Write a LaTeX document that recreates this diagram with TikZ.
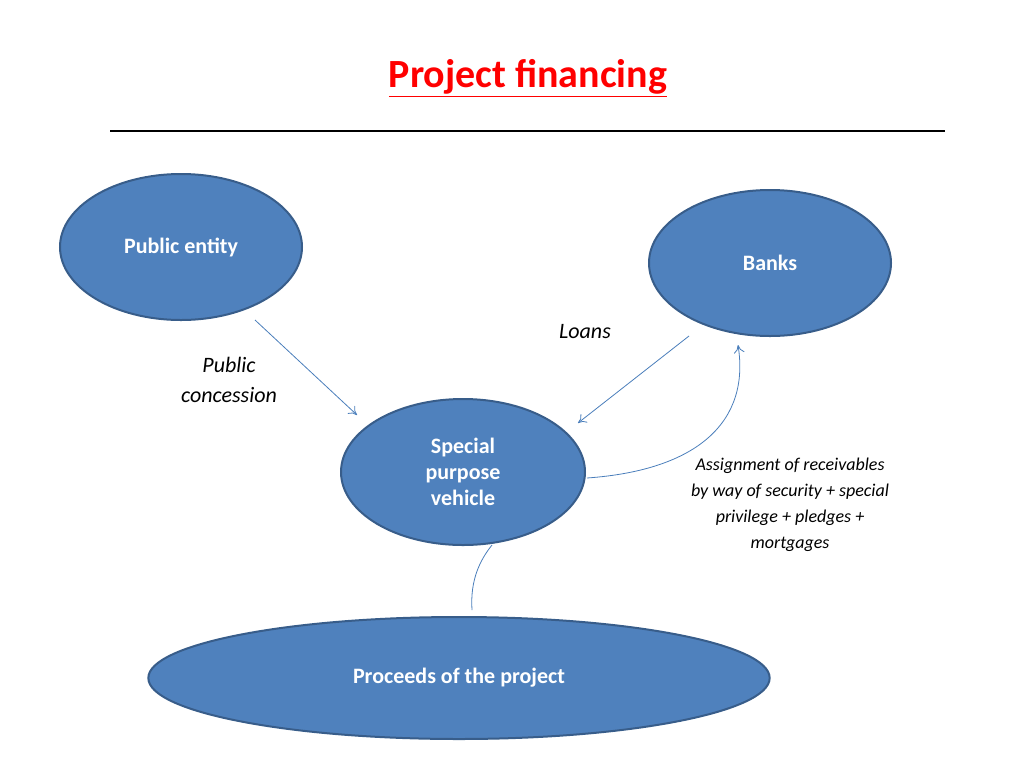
\documentclass[tikz,border=0pt]{standalone}
\usepackage{fontspec}
\setmainfont{Carlito}
\usetikzlibrary{shapes.geometric,arrows.meta}
\definecolor{fillb}{HTML}{4F81BD}
\definecolor{edgeb}{HTML}{385D8A}
\definecolor{lineb}{HTML}{4A7EBB}
\begin{document}
\begin{tikzpicture}[x=0.75pt,y=-0.75pt,
  ell/.style={ellipse,draw=edgeb,fill=fillb,line width=1.5pt,inner sep=0pt,text=white,font=\fontsize{16.5}{19.5}\selectfont\bfseries,align=center},
  lab/.style={font=\fontsize{16.5}{23}\selectfont\itshape,align=center},
  conn/.style={draw=lineb,line width=0.6pt},
  arr/.style={conn,-{To[length=6pt,width=8pt]}}]
\useasboundingbox (0,0) rectangle (1024,768);
\node[font=\fontsize{30}{36}\selectfont\bfseries,text=red] (title) at (528,78) {\underline{Project financing}};
\coordinate (ul1) at (110,131); \coordinate (ul2) at (945,131);
\draw[line width=2.2pt] (ul1) -- (ul2);
\node[ell,minimum width=181.5pt,minimum height=109.5pt] (pub) at (181,247) {Public entity};
\node[ell,minimum width=181.5pt,minimum height=109.5pt] (banks) at (770,263) {Banks};
\node[ell,minimum width=183pt,minimum height=109.5pt] (spv) at (463,472) {Special\\purpose\\vehicle};
\node[ell,minimum width=466pt,minimum height=91.5pt] (proc) at (459,678) {Proceeds of the project};
\coordinate (a1) at (255,320); \coordinate (a2) at (357,415);
\draw[arr] (a1) -- (a2);
\coordinate (b1) at (689,336); \coordinate (b2) at (578,423);
\draw[arr] (b1) -- (b2);
\coordinate (c1) at (587,478); \coordinate (c2) at (738,345);
\draw[arr] (c1) .. controls (700,470) and (750,420) .. (c2);
\coordinate (d1) at (472,610); \coordinate (d2) at (492,545);
\draw[conn] (d1) .. controls (470,580) and (480,560) .. (d2);
\node[lab] (loans) at (585,332) {Loans};
\node[lab] (pc) at (229,380) {Public\\concession};
\node[font=\fontsize{13.5}{19.5}\selectfont\itshape,align=center] (asg) at (790,505) {Assignment of receivables\\by way of security + special\\privilege + pledges +\\mortgages};
\end{tikzpicture}
\end{document}
